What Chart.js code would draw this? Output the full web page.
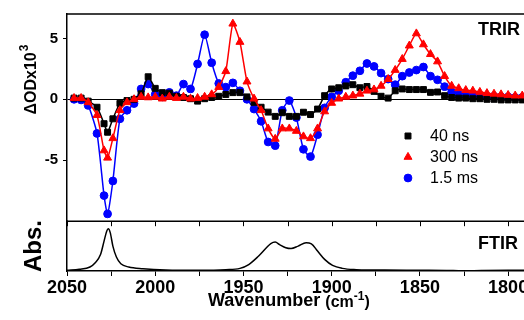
<!DOCTYPE html>
<html>
<head>
<meta charset="utf-8">
<script src="https://cdn.jsdelivr.net/npm/chart.js@4.4.1/dist/chart.umd.min.js"></script>
<style>
  html, body { margin: 0; padding: 0; background: #fff; }
  #wrap { width: 524px; height: 320px; overflow: hidden; }
</style>
</head>
<body>
<div id="wrap"><canvas id="chart" width="524" height="320"></canvas></div>
<script>
// TRIR spectra (dOD x 10^3) on the probe grid, cm-1
const trirWn = [2046, 2042, 2038, 2033, 2029, 2027, 2024, 2020, 2016, 2012, 2008, 2004, 2000, 1996, 1992, 1988,
  1984, 1980, 1976, 1972, 1968, 1964, 1960, 1956, 1952, 1948, 1944, 1940, 1936, 1932, 1928, 1924,
  1920, 1916, 1912, 1908, 1904, 1900, 1896, 1892, 1888, 1884, 1880, 1876, 1872, 1868, 1864, 1860,
  1856, 1852, 1848, 1844, 1840, 1836, 1832, 1828, 1824, 1820, 1816, 1812, 1808, 1804, 1800, 1796, 1792];

const trir40ns = [0.1, 0.1, -0.15, -0.65, -2.0, -2.7, -1.6, -0.33, -0.1, 0.0, 0.45, 1.85, 0.9, 0.55, 0.5, 0.25,
  0.15, 0.05, -0.15, 0.05, 0.15, 0.25, 0.4, 0.55, 0.55, 0.2, -0.25, -0.65, -1.05, -1.4, -1.1, -1.4,
  -1.4, -1.06, -1.25, -0.8, 0.3, 0.85, 0.95, 1.1, 1.2, 0.95, 1.05, 0.65, 0.25, 0.1, 0.7, 0.85,
  0.8, 0.8, 0.8, 0.57, 0.6, 0.3, 0.15, 0.1, 0.1, 0.05, 0.05, 0.0, 0.0, -0.05, -0.05, -0.05, -0.05];

const trir300ns = [0.1, 0.1, -0.25, -1.3, -4.2, -4.8, -3.2, -0.9, -0.25, 0.0, 0.2, 0.15, 0.2, 0.05, 0.2, 0.1,
  0.2, 0.05, 0.1, 0.2, 0.4, 1.0, 2.3, 6.2, 4.7, 1.45, 0.05, -0.9, -2.4, -3.25, -2.4, -2.4,
  -2.6, -3.05, -3.2, -2.4, -1.0, -0.3, 0.05, 0.2, 0.3, 0.45, 0.7, 0.8, 1.1, 1.65, 2.4, 3.3,
  4.4, 5.4, 4.5, 3.7, 3.1, 1.9, 1.1, 0.9, 0.75, 0.7, 0.6, 0.5, 0.45, 0.4, 0.35, 0.3, 0.3];

const trir15ms = [0.0, -0.05, -0.5, -2.8, -7.9, -9.4, -6.7, -1.6, -0.9, -0.35, 0.85, 1.25, 0.4, 0.2, 0.57, 0.3,
  1.25, 0.85, 2.9, 5.3, 3.0, 1.3, 1.0, 1.35, 0.7, 0.0, -0.8, -1.8, -3.5, -3.8, -0.9, -0.1,
  -1.5, -4.1, -4.7, -2.9, -0.7, 0.2, 0.7, 1.4, 1.94, 2.34, 2.94, 2.7, 2.15, 1.66, 1.2, 1.9,
  2.2, 2.4, 2.65, 1.9, 1.6, 1.04, 0.6, 0.4, 0.35, 0.3, 0.3, 0.25, 0.25, 0.2, 0.2, 0.15, 0.15];

// FTIR absorbance (normalised)
const ftirWn = [2050, 2043, 2037, 2034, 2031, 2029, 2027.5, 2026.6, 2025.5, 2024, 2022, 2019.5, 2015, 2007, 1994,
  1975, 1960, 1952, 1947, 1942, 1937, 1934.5, 1932, 1929.5, 1926, 1923, 1919, 1914.5, 1911.5, 1908,
  1904, 1899.5, 1894, 1886, 1880, 1870, 1850, 1835, 1826, 1815, 1800, 1791];
const ftirAbs = [0.013, 0.033, 0.08, 0.166, 0.33, 0.6, 0.8, 0.846, 0.77, 0.5, 0.28, 0.146, 0.08, 0.046, 0.02,
  0.013, 0.026, 0.053, 0.13, 0.28, 0.466, 0.55, 0.58, 0.53, 0.466, 0.45, 0.5, 0.566, 0.546, 0.4,
  0.233, 0.113, 0.053, 0.026, 0.02, 0.02, 0.015, 0.012, 0.003, 0.01, 0.015, 0.015];

const xTicks = [2050, 2025, 2000, 1975, 1950, 1925, 1900, 1875, 1850, 1825, 1800];
const yTicks = [-5, 0, 5];

const FONT = "'Liberation Sans', Arial, sans-serif";
const toPts = (xs, ys) => xs.map((x, i) => ({ x: x, y: ys[i] }));

// frame, panel labels, axis titles and the legend
const decorPlugin = {
  id: 'decor',
  afterDraw(chart) {
    const ctx = chart.ctx;
    const area = chart.chartArea;
    const xs = chart.scales.x;
    const yFt = chart.scales.yFt;

    ctx.save();
    ctx.strokeStyle = '#000';
    ctx.lineWidth = 1.5;
    ctx.beginPath();
    ctx.moveTo(area.left, area.top);
    ctx.lineTo(area.right, area.top);
    ctx.moveTo(area.left, yFt.top);
    ctx.lineTo(area.right, yFt.top);
    ctx.stroke();

    ctx.lineWidth = 1;
    ctx.beginPath();
    xTicks.forEach(v => {
      const px = Math.round(xs.getPixelForValue(v)) + 0.5;
      ctx.moveTo(px, yFt.top);
      ctx.lineTo(px, yFt.top + 5);
    });
    ctx.stroke();

    ctx.fillStyle = '#000';
    ctx.textBaseline = 'alphabetic';
    ctx.textAlign = 'left';
    ctx.font = 'bold 18px ' + FONT;
    ctx.fillText('TRIR', 478, 35);
    ctx.fillText('FTIR', 478, 249);

    // x title
    ctx.font = 'bold 18px ' + FONT;
    ctx.fillText('Wavenumber', 208, 306);
    let x = 208 + ctx.measureText('Wavenumber ').width;
    ctx.font = 'bold 16px ' + FONT;
    ctx.fillText('(cm', x, 307);
    x += ctx.measureText('(cm').width;
    ctx.font = 'bold 12px ' + FONT;
    ctx.fillText('-1', x, 300);
    x += ctx.measureText('-1').width;
    ctx.font = 'bold 16px ' + FONT;
    ctx.fillText(')', x, 307);

    // y titles
    ctx.save();
    ctx.translate(30, 80);
    ctx.rotate(-Math.PI / 2);
    ctx.font = 'bold 16px ' + FONT;
    const w1 = ctx.measureText('\u0394ODx10').width;
    ctx.font = 'bold 12px ' + FONT;
    const w2 = ctx.measureText('3').width;
    const start = -(w1 + w2) / 2;
    ctx.font = 'bold 16px ' + FONT;
    ctx.fillText('\u0394ODx10', start, 6);
    ctx.font = 'bold 12px ' + FONT;
    ctx.fillText('3', start + w1 + 1, -2);
    ctx.restore();

    ctx.save();
    ctx.translate(32, 246);
    ctx.rotate(-Math.PI / 2);
    ctx.font = 'bold 24px ' + FONT;
    ctx.textAlign = 'center';
    ctx.fillText('Abs.', 0, 8.5);
    ctx.restore();

    // legend
    ctx.font = '16px ' + FONT;
    ctx.textBaseline = 'middle';
    chart.data.datasets.slice(0, 3).forEach((ds, i) => {
      const ly = 136 + i * 21;
      ctx.fillStyle = ds.backgroundColor;
      ctx.strokeStyle = ds.borderColor;
      Chart.helpers.drawPoint(ctx, { pointStyle: ds.pointStyle, radius: ds.pointRadius, borderWidth: 1, rotation: 0 }, 408, ly);
      ctx.fillStyle = '#000';
      ctx.fillText(ds.label, 430, ly + 1);
    });
    ctx.restore();
  }
};

const common = { borderWidth: 1.5, pointBorderWidth: 1, tension: 0.2, yAxisID: 'y' };

new Chart(document.getElementById('chart').getContext('2d'), {
  type: 'line',
  data: {
    datasets: [
      Object.assign({ label: '40 ns', data: toPts(trirWn, trir40ns), borderColor: '#000000', backgroundColor: '#000000',
        pointStyle: 'rect', pointRadius: 4.2, order: 2 }, common),
      Object.assign({ label: '300 ns', data: toPts(trirWn, trir300ns), borderColor: '#ff0000', backgroundColor: '#ff0000',
        pointStyle: 'triangle', pointRadius: 4.6, order: 1 }, common),
      Object.assign({ label: '1.5 ms', data: toPts(trirWn, trir15ms), borderColor: '#0000ff', backgroundColor: '#0000ff',
        pointStyle: 'circle', pointRadius: 3.9, order: 3 }, common),
      { label: 'FTIR', data: toPts(ftirWn, ftirAbs), yAxisID: 'yFt', borderColor: '#000000', borderWidth: 1.5,
        pointRadius: 0, cubicInterpolationMode: 'monotone', order: 4 }
    ]
  },
  options: {
    responsive: false,
    animation: false,
    devicePixelRatio: 1,
    layout: { autoPadding: false, padding: { top: 13, right: 0, bottom: 0, left: 0 } },
    plugins: { legend: { display: false }, tooltip: { enabled: false } },
    scales: {
      x: {
        type: 'linear',
        reverse: true,
        min: 1791,
        max: 2050,
        afterBuildTicks: s => { s.ticks = xTicks.map(v => ({ value: v })); },
        afterFit: s => { s.height = 49; s.paddingLeft = 0; s.paddingRight = 0; },
        ticks: {
          autoSkip: false, maxRotation: 0, padding: 1, color: '#000',
          font: { family: FONT, size: 18, weight: 'bold' },
          callback: v => (v % 50 === 0 ? String(v) : '')
        },
        grid: { drawOnChartArea: false, tickLength: 5, tickColor: '#000', tickWidth: 1 },
        border: { display: true, color: '#000', width: 1.5 }
      },
      yFt: {
        type: 'linear',
        position: 'left',
        stack: 'panels',
        stackWeight: 50,
        min: 0,
        max: 1,
        afterFit: s => { s.width = 67; },
        ticks: { display: false },
        grid: { display: false },
        border: { display: true, color: '#000', width: 1.5 }
      },
      y: {
        type: 'linear',
        position: 'left',
        stack: 'panels',
        stackWeight: 208,
        min: -10,
        max: 7,
        afterBuildTicks: s => { s.ticks = yTicks.map(v => ({ value: v })); },
        afterFit: s => { s.width = 67; },
        ticks: { padding: 5, color: '#000', font: { family: FONT, size: 15, weight: 'bold' } },
        grid: {
          drawOnChartArea: true,
          color: c => (c.tick && c.tick.value === 0 ? '#000' : 'rgba(0,0,0,0)'),
          lineWidth: 1,
          tickLength: 4,
          tickColor: '#000'
        },
        border: { display: true, color: '#000', width: 1.5 }
      }
    }
  },
  plugins: [decorPlugin]
});
</script>
</body>
</html>
